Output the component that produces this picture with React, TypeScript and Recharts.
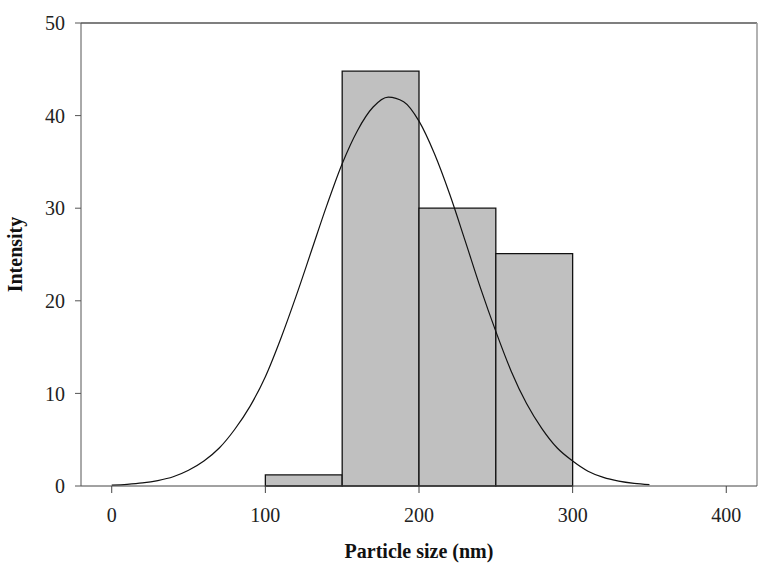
import React from 'react';
import { ComposedChart, Line, XAxis, YAxis, ReferenceArea, ReferenceLine } from 'recharts';

// fitted curve
const sizes = [0, 10, 20, 30, 40, 50, 60, 70, 80, 90, 100, 110, 120, 130, 140, 150, 160, 170, 180, 190, 200, 210, 220, 230, 240, 250, 260, 270, 280, 290, 300, 310, 320, 330, 340, 350];
const fit = [0.09, 0.18, 0.33, 0.59, 1.0, 1.7, 2.7, 4.1, 6.1, 8.6, 11.8, 15.9, 20.5, 25.4, 30.3, 34.8, 38.4, 40.9, 42.0, 41.5, 39.4, 35.9, 31.5, 26.5, 21.4, 16.7, 12.4, 8.9, 6.2, 4.1, 2.7, 1.6, 0.93, 0.53, 0.29, 0.15];

// histogram bins
const binStart = [100, 150, 200, 250];
const binEnd = [150, 200, 250, 300];
const counts = [1.2, 44.8, 30.0, 25.1];

const xTicks = [0, 100, 200, 300, 400];
const yTicks = [0, 10, 20, 30, 40, 50];
const xMin = -20;
const xMax = 420;
const yMax = 50;

const font = '"Liberation Serif", "Times New Roman", serif';

const App = () => {
  const data = sizes.map((s, i) => ({ size: s, fit: fit[i] }));
  const tickStyle = { fill: '#222', fontSize: 20, fontFamily: font };
  return <div style={{ position: 'absolute', left: 0, top: 0, width: 759, height: 566, background: '#fff' }}>
      <ComposedChart width={759} height={566} data={data} margin={{
      top: 23,
      right: 2,
      bottom: 0,
      left: 0
    }}>
        <XAxis xAxisId="bottom" dataKey="size" type="number" domain={[xMin, xMax]} ticks={xTicks} allowDataOverflow height={80} stroke="#444" tickSize={7} tickMargin={15} tick={tickStyle} label={{
        value: 'Particle size (nm)',
        position: 'insideBottom',
        offset: 8,
        style: { fontFamily: font, fontSize: 20, fontWeight: 'bold', fill: '#111' }
      }} />
        <YAxis yAxisId="left" type="number" domain={[0, yMax]} ticks={yTicks} width={81} stroke="#555" tickSize={6} tickMargin={10} tick={tickStyle} label={{
        value: 'Intensity',
        angle: -90,
        position: 'insideLeft',
        offset: 15,
        style: { fontFamily: font, fontSize: 20, fontWeight: 'bold', fill: '#111', textAnchor: 'middle' }
      }} />
        {binStart.map((b, i) => <ReferenceArea key={b} xAxisId="bottom" yAxisId="left" x1={b} x2={binEnd[i]} y1={0} y2={counts[i]} fill="#c0c0c0" fillOpacity={1} stroke="#111" strokeWidth={1.3} />)}
        <ReferenceLine xAxisId="bottom" yAxisId="left" y={yMax} stroke="#555" strokeWidth={1.3} />
        <ReferenceLine xAxisId="bottom" yAxisId="left" x={xMax} stroke="#999" strokeWidth={1.5} />
        <Line xAxisId="bottom" yAxisId="left" type="monotone" dataKey="fit" stroke="#111" strokeWidth={1.2} dot={false} isAnimationActive={false} />
      </ComposedChart>
    </div>;
};

export default App;
